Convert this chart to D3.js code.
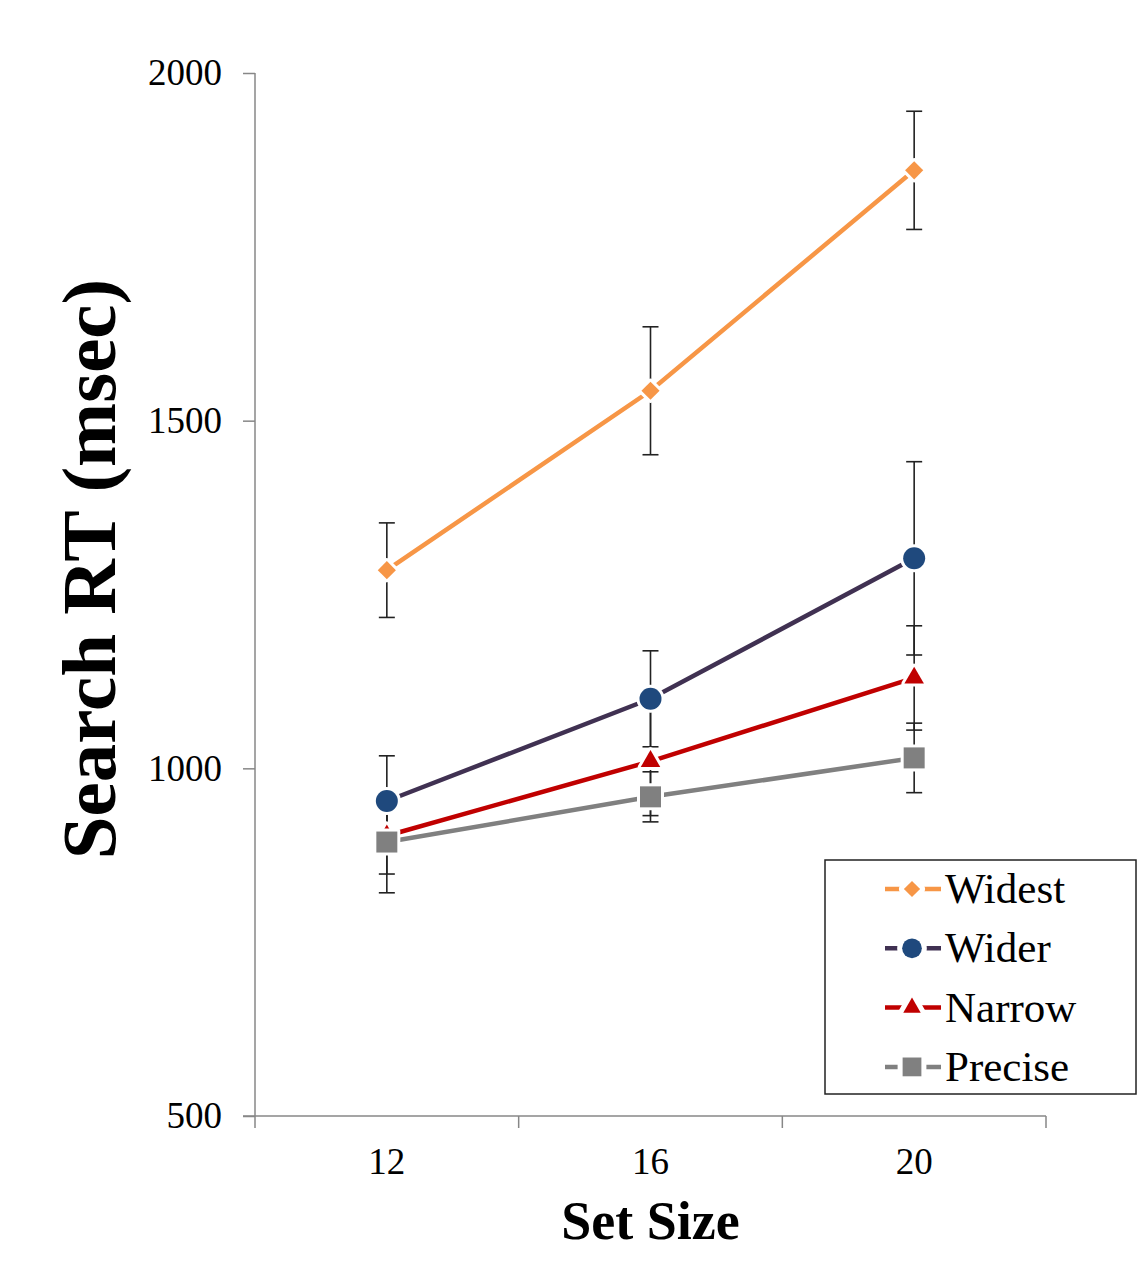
<!DOCTYPE html>
<html>
<head>
<meta charset="utf-8">
<script src="https://cdn.jsdelivr.net/npm/d3@7"></script>
<style>
  html, body { margin: 0; padding: 0; background: #fff; }
  svg { display: block; }
  text { font-family: "Liberation Serif", "Times New Roman", serif; }
</style>
</head>
<body>
<svg id="chart" width="1148" height="1280"></svg>
<script>
// Set sizes on the category axis
const setSizes = ["12", "16", "20"];
// Series names, in legend order
const seriesNames = ["Widest", "Wider", "Narrow", "Precise"];
// Mean search RT (msec) per set size
const widest  = [1285, 1543, 1860];
const wider   = [953, 1100, 1302];
const narrow  = [903, 1010, 1130];
const precise = [894, 959, 1015];
// Error bar half-widths (msec)
const widestErr  = [68, 92, 85];
const widerErr   = [65, 69, 139];
const narrowErr  = [55, 78, 75];
const preciseErr = [73, 36, 50];
// Y axis ticks
const yTicks = [500, 1000, 1500, 2000];

const series = [
  { name: seriesNames[0], values: widest,  err: widestErr,  line: "#F79646", fill: "#F79646", shape: d3.symbolDiamond2, size: 210 },
  { name: seriesNames[1], values: wider,   err: widerErr,   line: "#403152", fill: "#1F497D", shape: d3.symbolCircle,   size: 380 },
  { name: seriesNames[2], values: narrow,  err: narrowErr,  line: "#C00000", fill: "#C00000", shape: d3.symbolTriangle, size: 165 },
  { name: seriesNames[3], values: precise, err: preciseErr, line: "#808080", fill: "#808080", shape: d3.symbolSquare,   size: 441 }
];

const svg = d3.select("#chart");
const plotLeft = 255, plotRight = 1046, plotTop = 73, plotBottom = 1116;

const xBand = d3.scaleBand().domain(setSizes).range([plotLeft, plotRight]).paddingInner(0).paddingOuter(0);
const xc = c => xBand(c) + xBand.bandwidth() / 2;
const y = d3.scaleLinear().domain([500, 2000]).range([plotBottom, plotTop]);

const axisColor = "#878787";
const serif = "Liberation Serif, Times New Roman, serif";

// Y axis
const yAxis = svg.append("g")
  .attr("transform", `translate(${plotLeft},0)`)
  .call(d3.axisLeft(y).tickValues(yTicks).tickSize(12).tickPadding(21).tickFormat(d3.format("d")));
yAxis.select(".domain").attr("stroke", axisColor).attr("stroke-width", 1.5).attr("d", `M0,${plotTop}V${plotBottom}`);
yAxis.selectAll(".tick line").attr("stroke", axisColor).attr("stroke-width", 1.5);
yAxis.selectAll(".tick text").attr("font-size", 37).attr("fill", "#000").attr("font-family", serif);

// X axis: labels centred in each band, ticks at band boundaries
const xAxis = svg.append("g")
  .attr("transform", `translate(0,${plotBottom})`)
  .call(d3.axisBottom(xBand).tickSize(0).tickPadding(32));
xAxis.select(".domain").attr("stroke", axisColor).attr("stroke-width", 1.5).attr("d", `M${plotLeft - 12},0H${plotRight}`);
xAxis.selectAll(".tick text").attr("font-size", 37).attr("fill", "#000").attr("font-family", serif);
const edges = setSizes.map(c => xBand(c)).concat([xBand(setSizes[setSizes.length - 1]) + xBand.bandwidth()]);
xAxis.selectAll("line.edge").data(edges).enter().append("line")
  .attr("class", "edge")
  .attr("x1", d => d).attr("x2", d => d)
  .attr("y1", 0).attr("y2", 12)
  .attr("stroke", axisColor).attr("stroke-width", 1.5);

// Axis titles
svg.append("text")
  .attr("transform", `translate(115,569) rotate(-90)`)
  .attr("text-anchor", "middle")
  .attr("font-size", 77).attr("font-weight", "bold")
  .text("Search RT (msec)");
svg.append("text")
  .attr("x", (plotLeft + plotRight) / 2).attr("y", 1239)
  .attr("text-anchor", "middle")
  .attr("font-size", 54).attr("font-weight", "bold")
  .text("Set Size");

const plot = svg.append("g");

// Error bars
series.forEach(s => {
  const g = plot.append("g");
  setSizes.forEach((c, i) => {
    const x0 = xc(c), hi = y(s.values[i] + s.err[i]), lo = y(s.values[i] - s.err[i]);
    g.append("line").attr("x1", x0).attr("x2", x0).attr("y1", hi).attr("y2", lo)
      .attr("stroke", "#222").attr("stroke-width", 1.6);
    [hi, lo].forEach(v => g.append("line")
      .attr("x1", x0 - 8).attr("x2", x0 + 8).attr("y1", v).attr("y2", v)
      .attr("stroke", "#222").attr("stroke-width", 1.6));
  });
});

// Lines
const lineGen = d3.line().x((d, i) => xc(setSizes[i])).y(d => y(d));
series.slice().reverse().forEach(s => {
  plot.append("path").datum(s.values)
    .attr("d", lineGen)
    .attr("fill", "none")
    .attr("stroke", s.line)
    .attr("stroke-width", 4.5);
});

// Markers with a white halo drawn beneath the fill
series.forEach(s => {
  plot.selectAll(null).data(s.values).enter().append("path")
    .attr("transform", (d, i) => `translate(${xc(setSizes[i])},${y(d)})`)
    .attr("d", d3.symbol().type(s.shape).size(s.size))
    .attr("fill", s.fill)
    .attr("stroke", "#fff").attr("stroke-width", 6)
    .attr("stroke-linejoin", "round")
    .attr("paint-order", "stroke");
});

// Legend
const lg = svg.append("g").attr("transform", "translate(825,860)");
lg.append("rect").attr("width", 311).attr("height", 234)
  .attr("fill", "#fff").attr("stroke", "#222").attr("stroke-width", 1.5);
series.forEach((s, i) => {
  const ry = 29 + i * 59.3;
  lg.append("line").attr("x1", 60).attr("x2", 116).attr("y1", ry).attr("y2", ry)
    .attr("stroke", s.line).attr("stroke-width", 4.5);
  lg.append("path")
    .attr("transform", `translate(87,${ry})`)
    .attr("d", d3.symbol().type(s.shape).size(s.size * 0.8))
    .attr("fill", s.fill).attr("stroke", "#fff").attr("stroke-width", 10)
    .attr("stroke-linejoin", "round")
    .attr("paint-order", "stroke");
  lg.append("text").attr("x", 120).attr("y", ry + 14)
    .attr("font-size", 43).attr("fill", "#000")
    .text(s.name);
});
</script>
</body>
</html>
